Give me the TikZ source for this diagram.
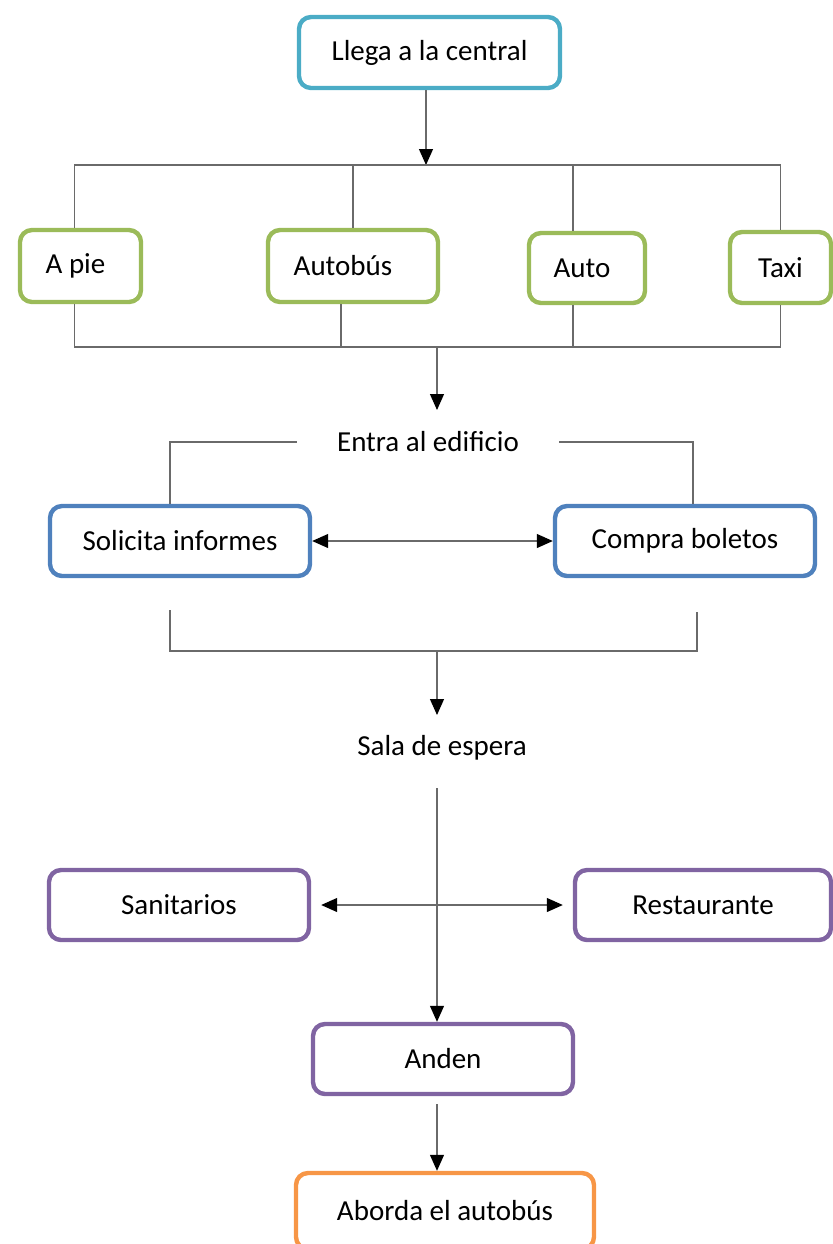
\documentclass[tikz,border=0pt]{standalone}
\usepackage{fontspec}
\setmainfont{Carlito}
\usetikzlibrary{arrows.meta,positioning}
\definecolor{cajaturq}{HTML}{4BACC6}
\definecolor{cajaverde}{HTML}{9BBB59}
\definecolor{cajaazul}{HTML}{4F81BD}
\definecolor{cajamorado}{HTML}{8064A2}
\definecolor{cajanaranja}{HTML}{F79646}
\definecolor{lineagris}{HTML}{6A6A6A}
\begin{document}
\begin{tikzpicture}[x=0.5pt,y=-0.5pt,
    caja/.style={draw,line width=2.2pt,rounded corners=6pt,fill=white,
      minimum height=35.5pt,inner sep=0pt,font=\fontsize{14.5}{17}\selectfont},
    texto/.style={font=\fontsize{14.5}{17}\selectfont,inner ysep=3pt},
    linea/.style={draw=lineagris,line width=0.6pt},
    flecha/.style={linea,-{Triangle[length=8pt,width=7pt,color=black]}},
    flecha2/.style={linea,{Triangle[length=8pt,width=7pt,color=black]}-{Triangle[length=8pt,width=7pt,color=black]}}]
  \useasboundingbox (0,0) rectangle (833,1244);
  \node[caja,draw=cajaturq,minimum width=130.5pt] (llega) at (429.5,52.5) {Llega a la central};
  \node[caja,draw=cajaverde,minimum width=60.5pt,minimum height=36pt] (apie) at (80.5,266) {A pie\kern5pt};
  \node[caja,draw=cajaverde,minimum width=85pt,minimum height=36pt] (autobus) at (353,266) {Autob\'us\kern10pt};
  \node[caja,draw=cajaverde,minimum width=58pt,minimum height=35pt] (auto) at (587,268) {Auto\kern5pt};
  \node[caja,draw=cajaverde,minimum width=50.5pt] (taxi) at (780.5,267.5) {Taxi};
  \node[texto,inner xsep=20pt] (entra) at (428,442) {Entra al edificio};
  \node[caja,draw=cajaazul,minimum width=130pt,minimum height=35pt] (solicita) at (180,541) {Solicita informes};
  \node[caja,draw=cajaazul,minimum width=130pt,minimum height=35pt] (compra) at (685,541) {Compra boletos};
  \node[texto] (sala) at (442,748) {Sala de espera};
  \node[caja,draw=cajamorado,minimum width=130pt,minimum height=35pt] (sanitarios) at (179,905) {Sanitarios};
  \node[caja,draw=cajamorado,minimum width=128pt,minimum height=35pt] (restaurante) at (703,905) {Restaurante};
  \node[caja,draw=cajamorado,minimum width=130pt,minimum height=35pt] (anden) at (443,1059) {Anden};
  \node[caja,draw=cajanaranja,minimum width=149pt,minimum height=38pt] (aborda) at (445,1211) {Aborda el autob\'us};
  \coordinate (busA) at (426,165);
  \coordinate (busB) at (437,347);
  \coordinate (busC) at (437,651);
  \coordinate (salaBajo) at (437,788);
  \draw[flecha] (llega.south -| busA) -- (busA);
  \draw[linea] ([xshift=-3pt]apie.north) |- (taxi.north |- busA) -- (taxi.north);
  \draw[linea] (autobus.north) -- (autobus.north |- busA);
  \draw[linea] ([xshift=-7pt]auto.north) -- ([xshift=-7pt]auto.north |- busA);
  \draw[linea] ([xshift=-3pt]apie.south) |- (taxi.south |- busB) -- (taxi.south);
  \draw[linea] ([xshift=-6pt]autobus.south) -- ([xshift=-6pt]autobus.south |- busB);
  \draw[linea] ([xshift=-7pt]auto.south) -- ([xshift=-7pt]auto.south |- busB);
  \draw[flecha] (busB) -- ++(0,63);
  \draw[linea] (entra.west) -| ([xshift=-5pt]solicita.north);
  \draw[linea] (entra.east) -| ([xshift=4pt]compra.north);
  \draw[flecha2] (solicita.east) -- (compra.west);
  \draw[linea] ([xshift=-5pt,yshift=-16pt]solicita.south) |- (busC) -| ([xshift=6pt,yshift=-17pt]compra.south);
  \draw[flecha] (busC) -- ++(0,64);
  \draw[flecha] (salaBajo) -- (anden.north -| salaBajo);
  \draw[flecha2] ([xshift=5pt]sanitarios.east) -- ([xshift=-5pt]restaurante.west);
  \draw[flecha] ([yshift=-4pt]anden.south -| salaBajo) -- (aborda.north -| salaBajo);
\end{tikzpicture}
\end{document}
